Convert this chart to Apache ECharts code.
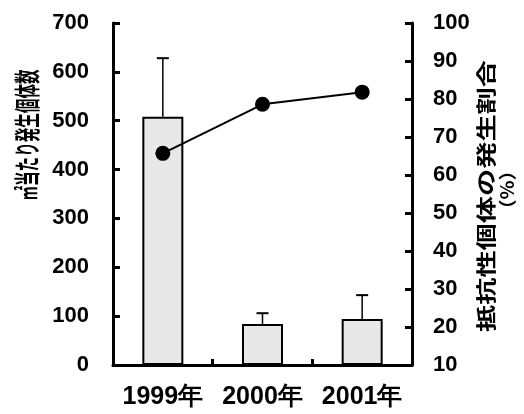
<!DOCTYPE html>
<html>
<head>
<meta charset="utf-8">
<script src="https://cdn.jsdelivr.net/npm/echarts@6/dist/echarts.min.js"></script>
<style>
html,body{margin:0;padding:0;background:#fff;}
#chart{width:524px;height:414px;}
</style>
</head>
<body>
<div id="chart"></div>
<script>
var categories = ['1999年', '2000年', '2001年'];
var densityValues = [508, 84, 94];
var densityErrorTops = [628, 106, 143];
var resistantRatio = [65.7, 78.6, 81.8];
var leftTicks = [0, 100, 200, 300, 400, 500, 600, 700];
var rightTicks = [10, 20, 30, 40, 50, 60, 70, 80, 90, 100];

var numFont = '"Liberation Sans", Arial, sans-serif';
var cjkFont = '"Noto Sans CJK JP"';

var chart = echarts.init(document.getElementById('chart'), null, {renderer: 'canvas'});

var errData = categories.map(function (c, i) { return [i, densityValues[i], densityErrorTops[i]]; });

chart.setOption({
  animation: false,
  backgroundColor: '#fff',
  grid: {left: 113, right: 112, top: 23, bottom: 49},
  xAxis: {
    type: 'category',
    data: categories,
    axisLine: {lineStyle: {color: '#000', width: 3}},
    axisTick: {show: true, inside: true, length: 6, lineStyle: {color: '#000', width: 3}},
    axisLabel: {interval: 0, color: '#000', fontSize: 25, fontWeight: 'bold', fontFamily: numFont, margin: 20}
  },
  yAxis: [{
    type: 'value',
    min: leftTicks[0], max: leftTicks[leftTicks.length - 1], interval: 100,
    splitLine: {show: false},
    axisLine: {show: true, lineStyle: {color: '#000', width: 3}},
    axisTick: {show: true, inside: true, length: 7, lineStyle: {color: '#000', width: 3}},
    axisLabel: {color: '#000', fontSize: 22, fontWeight: 'bold', fontFamily: numFont, margin: 24}
  }, {
    type: 'value',
    position: 'right',
    min: rightTicks[0], max: rightTicks[rightTicks.length - 1], interval: 10,
    splitLine: {show: false},
    axisLine: {show: true, lineStyle: {color: '#000', width: 3}},
    axisTick: {show: true, inside: true, length: 7, lineStyle: {color: '#000', width: 3}},
    axisLabel: {color: '#000', fontSize: 22, fontWeight: 'bold', fontFamily: numFont, margin: 21}
  }],
  graphic: [{
    type: 'group', x: 27, y: 135, rotation: Math.PI / 2,
    children: [{
      type: 'text', x: 0, y: 0, scaleX: 0.56, scaleY: 1,
      style: {text: '㎡当たり発生個体数', fontSize: 26, fontWeight: 'bold', fontFamily: cjkFont, fill: '#000', align: 'center', verticalAlign: 'middle'}
    }]
  }, {
    type: 'group', x: 486, y: 196, rotation: Math.PI / 2,
    children: [{
      type: 'text', x: 0, y: 0, scaleX: 1.36, scaleY: 1,
      style: {text: '抵抗性個体の発生割合', fontSize: 20, fontWeight: 'bold', fontFamily: cjkFont, fill: '#000', align: 'center', verticalAlign: 'middle'}
    }]
  }, {
    type: 'group', x: 507, y: 190, rotation: Math.PI / 2,
    children: [{
      type: 'text', x: 0, y: 0, scaleX: 1.1, scaleY: 1,
      style: {text: '（%）', fontSize: 18, fontWeight: 'bold', fontFamily: cjkFont, fill: '#000', align: 'center', verticalAlign: 'middle'}
    }]
  }],
  series: [{
    type: 'bar',
    data: densityValues,
    barWidth: 41,
    itemStyle: {color: '#e8e8e8', borderColor: '#000', borderWidth: 2},
    z: 2
  }, {
    type: 'custom',
    data: errData,
    z: 3,
    renderItem: function (params, api) {
      var base = api.coord([api.value(0), api.value(1)]);
      var top = api.coord([api.value(0), api.value(2)]);
      var hw = 6;
      return {
        type: 'group',
        children: [{
          type: 'line', shape: {x1: base[0], y1: base[1], x2: top[0], y2: top[1]},
          style: {stroke: '#000', lineWidth: 1.5}
        }, {
          type: 'line', shape: {x1: top[0] - hw, y1: top[1], x2: top[0] + hw, y2: top[1]},
          style: {stroke: '#000', lineWidth: 2}
        }]
      };
    }
  }, {
    type: 'line',
    yAxisIndex: 1,
    data: resistantRatio,
    symbol: 'circle',
    symbolSize: 15,
    lineStyle: {color: '#000', width: 2},
    itemStyle: {color: '#000'},
    z: 5
  }]
});
</script>
</body>
</html>
